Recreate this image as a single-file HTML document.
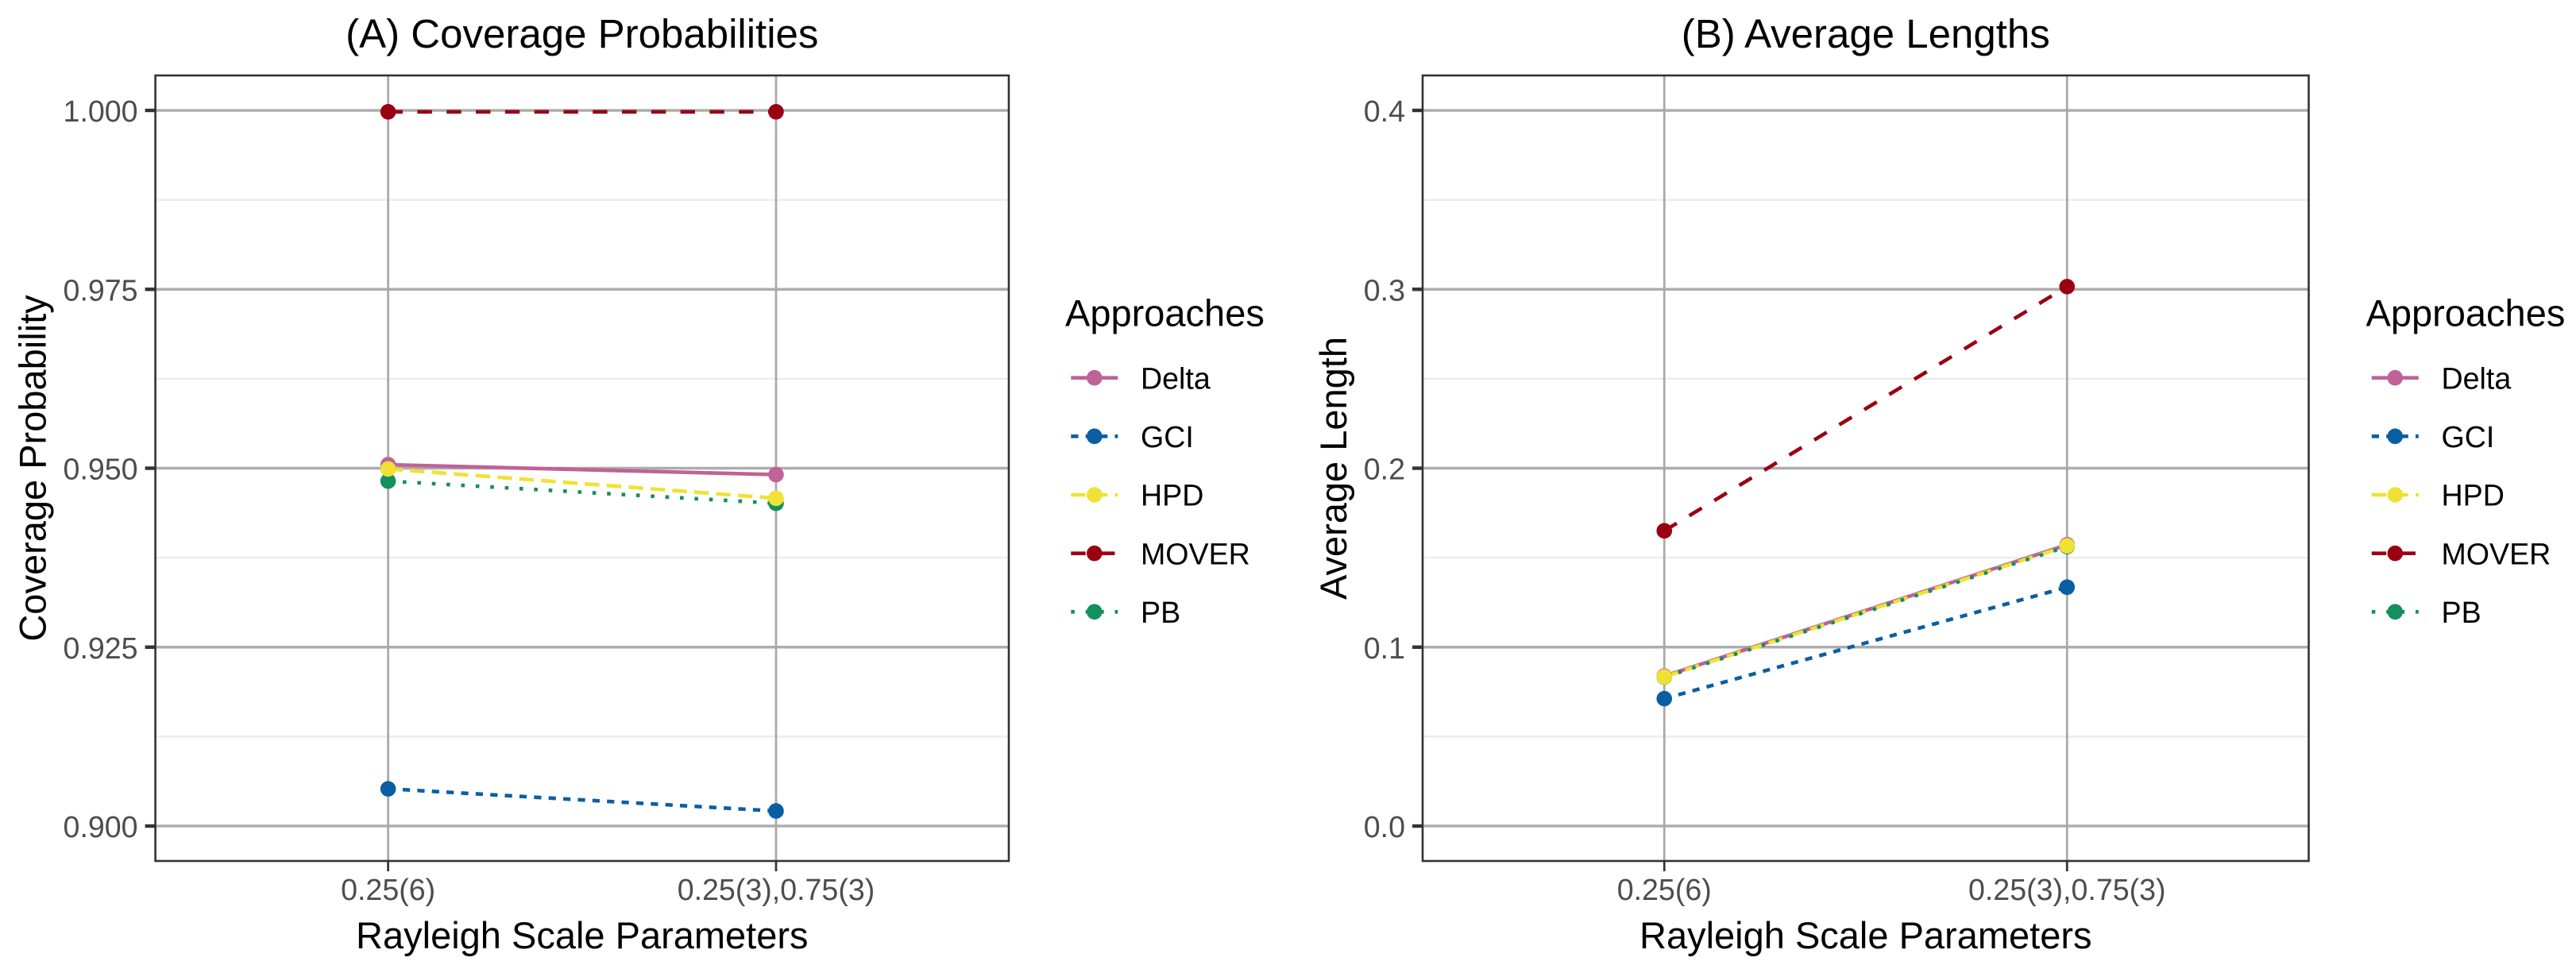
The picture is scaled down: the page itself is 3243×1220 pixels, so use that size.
<!DOCTYPE html>
<html lang="en">
<head>
<meta charset="utf-8">
<title>Coverage Probabilities and Average Lengths</title>
<style>
  html, body { margin: 0; padding: 0; background: #ffffff; }
  svg { display: block; }
  text { font-family: "Liberation Sans", Arial, sans-serif; }
</style>
</head>
<body>
<svg id="chart" xmlns="http://www.w3.org/2000/svg" width="3243" height="1220" viewBox="0 0 3243 1220">
  <rect x="0" y="0" width="3243" height="1220" fill="#ffffff"/>
  <g id="panel-a"></g>
  <g id="panel-b"></g>
</svg>
<script>
// ---- Chart data ----
const categories = ["0.25(6)", "0.25(3),0.75(3)"];
const seriesNames = ["Delta", "GCI", "HPD", "MOVER", "PB"];
const pointDrawOrder = ["Delta", "GCI", "MOVER", "PB", "HPD"];

const coverageTicks = [0.900, 0.925, 0.950, 0.975, 1.000];
const coverageTickLabels = ["0.900", "0.925", "0.950", "0.975", "1.000"];
const coverageMinorTicks = [0.9125, 0.9375, 0.9625, 0.9875];
const coverageDelta = [0.9505, 0.9491];
const coverageGCI = [0.9052, 0.9021];
const coverageHPD = [0.9499, 0.9458];
const coverageMOVER = [0.9998, 0.9998];
const coveragePB = [0.9482, 0.9451];

const lengthTicks = [0.0, 0.1, 0.2, 0.3, 0.4];
const lengthTickLabels = ["0.0", "0.1", "0.2", "0.3", "0.4"];
const lengthMinorTicks = [0.05, 0.15, 0.25, 0.35];
const lengthDelta = [0.0838, 0.1572];
const lengthGCI = [0.0712, 0.1335];
const lengthHPD = [0.0834, 0.1566];
const lengthMOVER = [0.1650, 0.3015];
const lengthPB = [0.0832, 0.1562];

// ---- Styles ----
const seriesColors = { Delta: "#BF6298", GCI: "#0A5EA3", HPD: "#EFE234", MOVER: "#9A0012", PB: "#148F5E" };
const seriesDashes = { Delta: "none", GCI: "9.2 9.2", HPD: "18.4 9.2", MOVER: "18.4 18.4", PB: "4.6 13.8" };

const SVG_NS = "http://www.w3.org/2000/svg";

function make(parent, tag, attrs, content) {
  const el = document.createElementNS(SVG_NS, tag);
  for (const k in attrs) el.setAttribute(k, attrs[k]);
  if (content !== undefined) el.textContent = content;
  parent.appendChild(el);
  return el;
}

function slug(s) {
  return String(s).toLowerCase().replace(/[^a-z0-9]+/g, "-").replace(/^-|-$/g, "");
}

function drawPanel(cfg) {
  const root = document.getElementById(cfg.rootId);
  const L = cfg.left, R = cfg.right, T = 95, B = 1084;
  const bandUnit = (R - L) / (categories.length - 1 + 1.2);
  const xScale = i => L + (0.6 + i) * bandUnit;
  const yScale = v => cfg.yBase - (v - cfg.yOrigin) * cfg.yPerUnit;

  // minor grid
  cfg.minorTicks.forEach(v => {
    const el = make(root, "line", { x1: L, x2: R, y1: yScale(v), y2: yScale(v), stroke: "#ececec", "stroke-width": 2.6 });
    
    
  });
  // major horizontal grid
  cfg.ticks.forEach(v => {
    const el = make(root, "line", { x1: L, x2: R, y1: yScale(v), y2: yScale(v), stroke: "#adadad", "stroke-width": 3.6 });
    
    
  });
  // major vertical grid
  categories.forEach((c, i) => {
    const el = make(root, "line", { x1: xScale(i), x2: xScale(i), y1: T, y2: B, stroke: "#a8a8a8", "stroke-width": 2.7 });
    
    
  });

  // lines
  seriesNames.forEach(name => {
    const vals = cfg.values[name];
    const pts = vals.map((v, i) => xScale(i).toFixed(2) + "," + yScale(v).toFixed(2)).join(" ");
    const el = make(root, "polyline", {
      points: pts, fill: "none", stroke: seriesColors[name], "stroke-width": 4.6,
      "stroke-dasharray": seriesDashes[name], "stroke-linecap": "butt"
    });
    
    
  });

  // points
  pointDrawOrder.forEach(name => {
    cfg.values[name].forEach((v, i) => {
      const el = make(root, "circle", { cx: xScale(i), cy: yScale(v), r: 9.8, fill: seriesColors[name] });
      
      
    });
  });

  // panel border
  const border = make(root, "rect", { x: L, y: T, width: R - L, height: B - T, fill: "none", stroke: "#333333", "stroke-width": 2.6 });
  
  

  // y ticks and labels
  cfg.ticks.forEach((v, i) => {
    const t = make(root, "line", { x1: L - 13, x2: L, y1: yScale(v), y2: yScale(v), stroke: "#333333", "stroke-width": 4.4 });
    
    
    const lab = make(root, "text", { x: L - 22, y: yScale(v) + 14, "text-anchor": "end", "font-size": 37.6, fill: "#4d4d4d" }, cfg.tickLabels[i]);
    
    
  });

  // x ticks and labels
  categories.forEach((c, i) => {
    const t = make(root, "line", { x1: xScale(i), x2: xScale(i), y1: B, y2: B + 13, stroke: "#333333", "stroke-width": 2.7 });
    
    
    const lab = make(root, "text", { x: xScale(i), y: 1133, "text-anchor": "middle", "font-size": 37.6, fill: "#4d4d4d" }, c);
    
    
  });

  // titles
  const cx = (L + R) / 2;
  const title = make(root, "text", { x: cx, y: 60, "text-anchor": "middle", "font-size": 51, fill: "#000000" }, cfg.title);
  
  

  const xTitle = make(root, "text", { x: cx, y: 1194, "text-anchor": "middle", "font-size": 47, fill: "#000000" }, cfg.xTitle);
  
  

  const yMid = (T + B) / 2;
  const yTitle = make(root, "text", {
    x: cfg.yTitleX, y: yMid, "text-anchor": "middle", "font-size": 47, fill: "#000000",
    transform: "rotate(-90 " + cfg.yTitleX + " " + yMid + ")"
  }, cfg.yTitle);
  
  

  // legend
  const legend = make(root, "g", {});
  
  

  const legendTitle = make(legend, "text", { x: cfg.legendX - 4, y: 410.5, "font-size": 47, fill: "#000000" }, "Approaches");
  
  

  seriesNames.forEach((name, i) => {
    const cy = 475.7 + i * 73.65;
    const entry = make(legend, "g", {});
    
    

    const keyLine = make(entry, "line", {
      x1: cfg.legendX + 3.3, x2: cfg.legendX + 62.3, y1: cy, y2: cy, stroke: seriesColors[name],
      "stroke-width": 4.6, "stroke-dasharray": seriesDashes[name], "stroke-linecap": "butt"
    });
    
    

    const keyDot = make(entry, "circle", { cx: cfg.legendX + 32.8, cy: cy, r: 9.8, fill: seriesColors[name] });
    
    

    const keyText = make(entry, "text", { x: cfg.legendX + 91, y: cy + 13.6, "font-size": 37.6, fill: "#000000" }, name);
    
    
  });
}

drawPanel({
  rootId: "panel-a",
  left: 195.6, right: 1270,
  yBase: 1040, yOrigin: 0.9, yPerUnit: 9010,
  ticks: coverageTicks, tickLabels: coverageTickLabels, minorTicks: coverageMinorTicks,
  values: { Delta: coverageDelta, GCI: coverageGCI, HPD: coverageHPD, MOVER: coverageMOVER, PB: coveragePB },
  title: "(A) Coverage Probabilities",
  xTitle: "Rayleigh Scale Parameters",
  yTitle: "Coverage Probability",
  yTitleX: 57.5,
  legendX: 1345
});

drawPanel({
  rootId: "panel-b",
  left: 1791, right: 2906.5,
  yBase: 1040, yOrigin: 0, yPerUnit: 2252.5,
  ticks: lengthTicks, tickLabels: lengthTickLabels, minorTicks: lengthMinorTicks,
  values: { Delta: lengthDelta, GCI: lengthGCI, HPD: lengthHPD, MOVER: lengthMOVER, PB: lengthPB },
  title: "(B) Average Lengths",
  xTitle: "Rayleigh Scale Parameters",
  yTitle: "Average Length",
  yTitleX: 1695,
  legendX: 2982.5
});
</script>
</body>
</html>
